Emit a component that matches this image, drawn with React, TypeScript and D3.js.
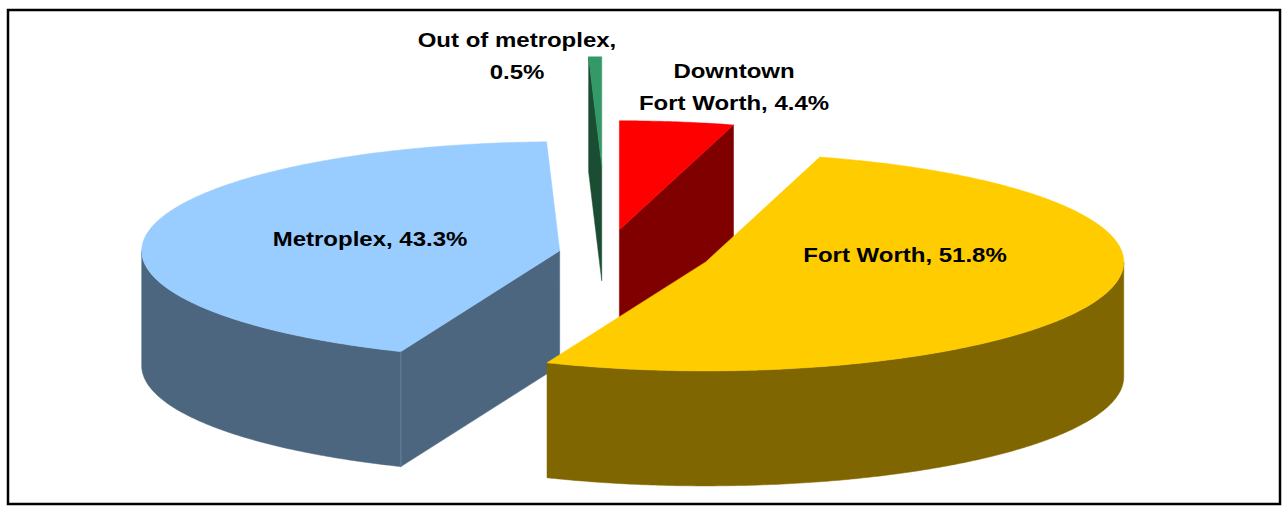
import React from "react";
import * as d3 from "d3";

const categories = ["Downtown Fort Worth", "Fort Worth", "Metroplex", "Out of metroplex"];
const values = [4.4, 51.8, 43.3, 0.5];
const labelLines = [
  ["Downtown", "Fort Worth, 4.4%"],
  ["Fort Worth, 51.8%"],
  ["Metroplex, 43.3%"],
  ["Out of metroplex,", "0.5%"],
];

const W = 1283;
const H = 507;
const CX = 607;
const CY = 253;
const RX = 418;
const RY = 109;
const DEPTH = 115;
const explode = [0.215, 0.25, 0.115, 0.8];
const topColors = ["#FF0000", "#FFCC00", "#99CCFF", "#339966"];
const sideColors = ["#800000", "#806600", "#4D6680", "#1B4D35"];
const seamColors = ["#800000", "#806600", "#6A819B", "#1B4D35"];
const labelPos = [
  { x: 734, y: 78 },
  { x: 905, y: 262 },
  { x: 370, y: 246 },
  { x: 517, y: 47 },
];
const LINE_GAP = 32;
const FONT_SIZE = 20;
const TEXT_SX = 1.2;

type Pt = [number, number];

export default function App() {
  const pie = d3
    .pie<number>()
    .sort(null)
    .value((d) => d)
    .startAngle(0)
    .endAngle(2 * Math.PI);
  const arcs = pie(values);
  const line = d3.line<Pt>().x((d) => d[0]).y((d) => d[1]);

  const slices = arcs.map((a, i) => {
    const mid = (a.startAngle + a.endAngle) / 2;
    const cx = CX + explode[i] * RX * Math.sin(mid);
    const cy = CY - explode[i] * RY * Math.cos(mid);
    const P = (t: number, z: number): Pt => [cx + RX * Math.sin(t), cy - RY * Math.cos(t) + z];
    const arcPts = (t0: number, t1: number, z: number): Pt[] => {
      const n = Math.max(2, Math.ceil(Math.abs(t1 - t0) / 0.01));
      return d3.range(n + 1).map((k) => P(t0 + ((t1 - t0) * k) / n, z));
    };
    const faces: { d: string; fill: string; key: string }[] = [];
    const seams: { d: string; key: string }[] = [];
    const walls: [number, number][] = [
      [a.startAngle, a.startAngle - Math.PI / 2],
      [a.endAngle, a.endAngle + Math.PI / 2],
    ];
    walls.forEach(([t, n], wi) => {
      if (Math.cos(n) < 0) {
        const pts: Pt[] = [[cx, cy], P(t, 0), P(t, DEPTH), [cx, cy + DEPTH]];
        faces.push({ d: line(pts)! + "Z", fill: sideColors[i], key: "w" + wi });
        const sinT = Math.sin(t);
        if (-Math.cos(t) > 0) {
          seams.push({ d: line([P(t, 0), P(t, DEPTH)])!, key: "s" + wi });
        }
        void sinT;
      }
    });
    const f0 = Math.max(a.startAngle, Math.PI / 2);
    const f1 = Math.min(a.endAngle, (3 * Math.PI) / 2);
    if (f1 > f0) {
      const pts = [...arcPts(f0, f1, 0), ...arcPts(f0, f1, DEPTH).reverse()];
      faces.push({ d: line(pts)! + "Z", fill: sideColors[i], key: "o" });
    }
    const topPts: Pt[] = [[cx, cy], ...arcPts(a.startAngle, a.endAngle, 0)];
    faces.push({ d: line(topPts)! + "Z", fill: topColors[i], key: "t" });
    return { i, cy, faces, seams };
  });

  const ordered = [...slices].sort((p, q) => p.cy - q.cy);

  return (
    <svg
      width={W}
      height={H}
      style={{ position: "absolute", left: 0, top: 0, background: "#fff" }}
      fontFamily="'Liberation Sans', Arial, sans-serif"
    >
      <rect x={0} y={0} width={W} height={H} fill="#fff" />
      {ordered.map((s) => (
        <g key={categories[s.i]}>
          {s.faces.map((f) => (
            <path key={f.key} d={f.d} fill={f.fill} stroke={f.fill} strokeWidth={0.5} />
          ))}
          {s.seams.map((m) => (
            <path key={m.key} d={m.d} fill="none" stroke={seamColors[s.i]} strokeWidth={1} />
          ))}
        </g>
      ))}
      {labelLines.map((lines, i) => (
        <g key={"lbl" + i}>
          {lines.map((t, j) => (
            <text
              key={j}
              transform={`translate(${labelPos[i].x},${labelPos[i].y + j * LINE_GAP}) scale(${TEXT_SX},1)`}
              textAnchor="middle"
              fontSize={FONT_SIZE}
              fontWeight="bold"
              fill="#000"
            >
              {t}
            </text>
          ))}
        </g>
      ))}
      <rect x={8} y={10} width={1272} height={494} fill="none" stroke="#000" strokeWidth={2.5} />
    </svg>
  );
}
